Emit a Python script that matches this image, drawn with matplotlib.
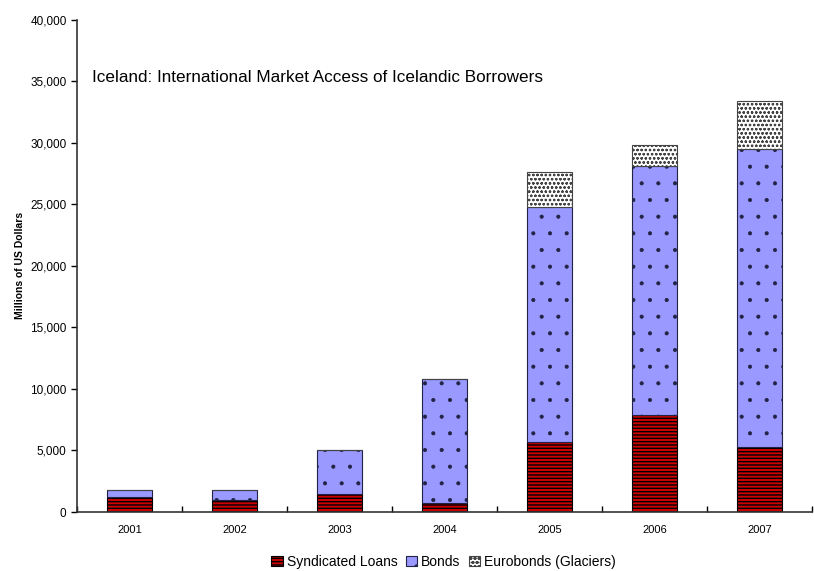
import numpy as np
import matplotlib as mpl
import matplotlib.pyplot as plt
from matplotlib.ticker import FuncFormatter

plt.rcParams['font.family'] = ['Liberation Sans', 'DejaVu Sans']

years = ['2001', '2002', '2003', '2004', '2005', '2006', '2007']
syndicated_loans = [1250, 1000, 1450, 750, 5650, 7900, 5250]
bonds = [500, 750, 3550, 10050, 19150, 20250, 24250]
eurobonds = [0, 0, 0, 0, 2850, 1700, 3900]

fig = plt.figure(figsize=(8.14, 5.71), dpi=100)
ax = fig.add_axes([0.0946, 0.1033, 0.903, 0.862])

x = np.arange(len(years))
w = 0.42
b1 = np.array(syndicated_loans)
b2 = b1 + np.array(bonds)

with mpl.rc_context({'hatch.linewidth': 1.0}):
    ax.bar(x, syndicated_loans, w, color='#cc0000', edgecolor='black', hatch='-----',
           linewidth=0.8, label='Syndicated Loans')
with mpl.rc_context({'hatch.linewidth': 0.5}):
    ax.bar(x, bonds, w, bottom=b1, color='#9999ff', edgecolor='#222244', hatch='.',
           linewidth=0.8, label='Bonds')
with mpl.rc_context({'hatch.linewidth': 0.6}):
    ax.bar(x, eurobonds, w, bottom=b2, color='white', edgecolor='#444444', hatch='oooo',
           linewidth=0.8, label='Eurobonds (Glaciers)')

ax.set_xlim(-0.5, len(years) - 0.5)
ax.set_ylim(0, 40000)
ax.set_yticks(np.arange(0, 40001, 5000))
ax.yaxis.set_major_formatter(FuncFormatter(lambda v, p: f'{int(v):,}'))
ax.set_xticks(x)
ax.set_xticklabels(years)
ax.set_xticks(np.arange(-0.5, len(years)), minor=True)
ax.tick_params(axis='x', which='major', length=0, labelsize=8, pad=9)
ax.tick_params(axis='x', which='minor', direction='in', length=4, width=1)
ax.tick_params(axis='y', direction='out', length=4, width=1, labelsize=8.5)

for s in ['top', 'right']:
    ax.spines[s].set_visible(False)
for s in ['left', 'bottom']:
    ax.spines[s].set_color('#333333')
    ax.spines[s].set_linewidth(1.2)

ax.set_ylabel('Millions of US Dollars', fontsize=7.5, fontweight='bold', labelpad=4)
ax.text(0.02, 0.882, 'Iceland: International Market Access of Icelandic Borrowers',
        transform=ax.transAxes, fontsize=12.3, va='center')

fig.legend(loc='lower center', bbox_to_anchor=(0.545, -0.018), ncol=3, frameon=False,
           fontsize=10, handlelength=0.8, handleheight=0.8, handletextpad=0.3,
           columnspacing=0.6)

fig.savefig('out.png', dpi=100)
